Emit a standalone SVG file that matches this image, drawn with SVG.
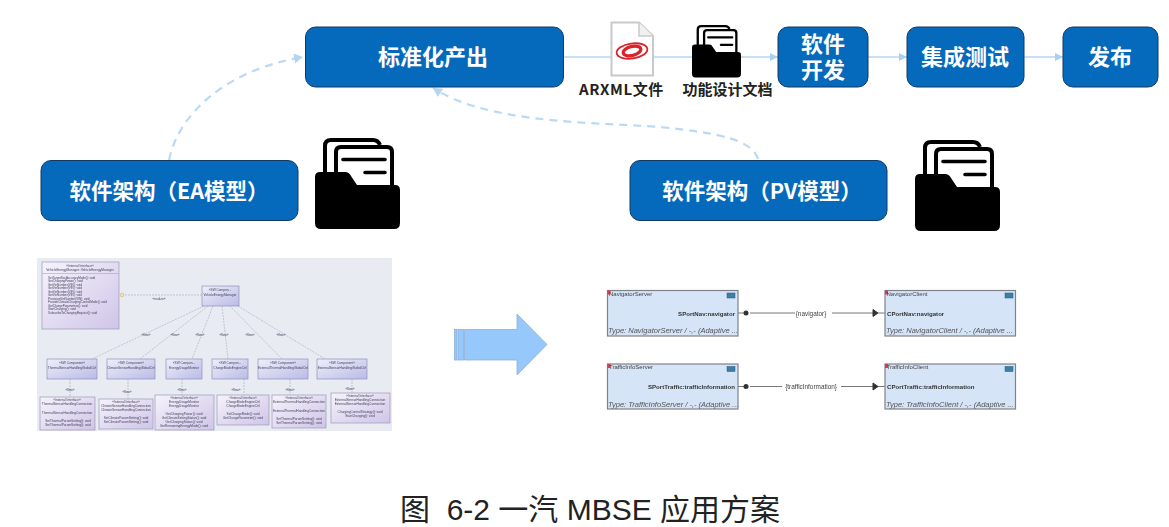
<svg xmlns="http://www.w3.org/2000/svg" xmlns:xlink="http://www.w3.org/1999/xlink" width="1169" height="527" viewBox="0 0 1169 527">
<style>
text{font-family:"Noto Sans CJK SC","Liberation Sans",sans-serif}
.n{fill:#0569bc;stroke:#123a63;stroke-width:1}
.t{fill:#fff;font-weight:700;text-anchor:middle}
.flow{fill:none;stroke:#b4d6f3;stroke-width:1.500}
.dash{fill:none;stroke:#bbd9f4;stroke-width:2.200;stroke-dasharray:8 6}
.cap{font-family:"Liberation Sans","Noto Sans CJK SC",sans-serif;font-size:30px;fill:#222;text-anchor:middle}
.lab{font-weight:700;fill:#222;text-anchor:middle}
.cls{fill:url(#pu);stroke:#9d97b8;stroke-width:.7}
.cmp{fill:url(#bl);stroke:#8f92b8;stroke-width:.7}
.ea{font-family:"Liberation Sans",sans-serif;font-size:3.2px;fill:#45435e;text-anchor:middle}
.eal{font-family:"Liberation Sans",sans-serif;font-size:3px;fill:#45435e}
.el{fill:none;stroke:#b0b3c0;stroke-width:.7;stroke-dasharray:2 1}
.pv{fill:#d6e4f7;stroke:#7f8387;stroke-width:1.200}
.pn{font-family:"Liberation Sans",sans-serif;font-size:6px;fill:#444}
.pp{font-family:"Liberation Sans",sans-serif;font-size:6.100px;font-weight:700;fill:#333}
.pt{font-family:"Liberation Sans",sans-serif;font-size:7.500px;font-style:italic;fill:#555}
.pl{font-family:"Liberation Sans",sans-serif;font-size:6.400px;fill:#444;text-anchor:middle}
.pc{stroke:#777;stroke-width:1;fill:none}
</style>
<defs>
<marker id="ah" markerWidth="9" markerHeight="9" refX="8" refY="4" orient="auto" markerUnits="userSpaceOnUse"><path d="M0,0L8,4L0,8Z" fill="#a9d0f0"/></marker>
<marker id="ad" markerWidth="11" markerHeight="11" refX="9" refY="5" orient="auto" markerUnits="userSpaceOnUse"><path d="M0,0L9,5L0,10Z" fill="#b4d5f2"/></marker>
<linearGradient id="pu" x1="0" y1="0" x2="1" y2="1"><stop offset="0" stop-color="#f6f3fb"/><stop offset="1" stop-color="#cfc5e8"/></linearGradient>
<linearGradient id="bl" x1="0" y1="0" x2="1" y2="1"><stop offset="0" stop-color="#eeeffa"/><stop offset="1" stop-color="#b9bbe6"/></linearGradient>
<filter id="soft" x="-2%" y="-2%" width="104%" height="104%"><feGaussianBlur stdDeviation=".35"/></filter>
<g id="folder">
<path d="M10,36V8Q10,2 16,2H58Q63,2 65,7" fill="#fff" stroke="#000" stroke-width="4"/>
<path d="M21,50V14Q21,9 26,9H72Q77,9 77,14V50Z" fill="#fff" stroke="#000" stroke-width="4"/>
<path d="M28,21.500H70M50,34.500H70" stroke="#000" stroke-width="3.600" stroke-linecap="round" fill="none"/>
<path d="M0,39Q0,34 5,34H30Q34,34 36,38L42,47H80Q85,47 85,52V85Q85,91 79,91H6Q0,91 0,85Z" fill="#000"/>
</g>
</defs>
<rect width="1169" height="527" fill="#fff"/>

<g id="connectors">
<path class="flow" d="M563,57H611"/>
<path class="flow" d="M654,57H692"/>
<path class="flow" d="M741,57H778" marker-end="url(#ah)"/>
<path class="flow" d="M868,57H907" marker-end="url(#ah)"/>
<path class="flow" d="M1024,57H1063" marker-end="url(#ah)"/>
<path class="dash" d="M169,160C178,115 225,70 303,57" marker-end="url(#ad)"/>
<path class="dash" d="M758,159C752,140 720,133 660,127C600,122 490,125 433,88" marker-end="url(#ad)"/>
</g>

<g id="n-output"><rect class="n" x="305.500" y="27" width="258" height="60" rx="10"/><text class="t" x="433" y="65" font-size="22">标准化产出</text></g>
<g id="n-dev"><rect class="n" x="778" y="27" width="90" height="60" rx="10"/><text class="t" font-size="22"><tspan x="823" y="52">软件</tspan><tspan x="823" y="78">开发</tspan></text></g>
<g id="n-test"><rect class="n" x="907" y="27" width="117" height="60" rx="10"/><text class="t" x="965" y="65" font-size="22">集成测试</text></g>
<g id="n-release"><rect class="n" x="1063" y="27" width="95" height="60" rx="10"/><text class="t" x="1110" y="65" font-size="22">发布</text></g>
<g id="n-ea"><rect class="n" x="41" y="160.500" width="257" height="60" rx="10"/><text class="t" x="169" y="199" font-size="21.500">软件架构（EA模型）</text></g>
<g id="n-pv"><rect class="n" x="630" y="160.500" width="257" height="60" rx="10"/><text class="t" x="762" y="199" font-size="21.500">软件架构（PV模型）</text></g>

<g id="doc-arxml">
<path d="M611.500,22.500H639L653,36V75.500H611.500Z" fill="#fff" stroke="#c9c9c9" stroke-width="2"/>
<path d="M639,22.500V36H653" fill="#f0f0f0" stroke="#c9c9c9" stroke-width="1.500"/>
<ellipse cx="632" cy="51" rx="15.500" ry="7.500" fill="none" stroke="#d8232a" stroke-width="1.800" transform="rotate(-8 632 51)"/>
<ellipse cx="632" cy="51" rx="9" ry="4.500" fill="none" stroke="#d8232a" stroke-width="3.200" transform="rotate(-14 632 51)"/>
<text class="lab" x="621.500" y="95" font-size="15" letter-spacing=".6">ARXML文件</text>
</g>
<g id="doc-design">
<use xlink:href="#folder" transform="translate(692,25) scale(.576)"/>
<text class="lab" x="727.500" y="95" font-size="15">功能设计文档</text>
</g>
<g id="folder-ea"><use xlink:href="#folder" transform="translate(315,138)"/></g>
<g id="folder-pv"><use xlink:href="#folder" transform="translate(915,140)"/></g>

<g id="ea-model" filter="url(#soft)">
<rect x="37" y="258" width="355" height="173" fill="#e9ebf3"/>
<path class="el" d="M122,295H202M204,306L92,359M208,306L140,359M213,306L192,359M222,306L228,359M230,306L282,359M238,306L325,359M70,379V397M128,379V399M182,379V395M244,379V395M290,379V395M352,379V393"/>
<circle cx="122" cy="295" r="1.800" fill="#f1e6b8" stroke="#c9a84f" stroke-width=".5"/>
<rect class="cls" x="42" y="262" width="77" height="67"/>
<path d="M42,273.500H119" stroke="#9d97b8" stroke-width=".5"/>
<text class="ea" x="80" y="266.500">«Internal Interface»</text>
<text class="ea" x="80" y="270.500">VehicleEnergyManager::VehicleEnergyManager</text>
<text class="eal" x="48" y="278.500">SetTargetSocAccuracyMode(): void</text>
<text class="eal" x="48" y="282">GetChargingPower(): void</text>
<text class="eal" x="48" y="285.500">GetVinNumber(VIN): void</text>
<text class="eal" x="48" y="289">GetVinNumber(VIN): void</text>
<text class="eal" x="48" y="292.500">GetVinNumber(VIN): void</text>
<text class="eal" x="48" y="296">GetVinNumber(VIN): void</text>
<text class="eal" x="48" y="299.500">ProvisionVinNumber(VIN): void</text>
<text class="eal" x="48" y="303">ProvideClimateChargingControlMode(): void</text>
<text class="eal" x="48" y="306.500">GetChargeParameters(): void</text>
<text class="eal" x="48" y="310">StartCharging(): void</text>
<text class="eal" x="48" y="313.500">SubscribeToChargingRequest(): void</text>
<rect class="cmp" x="202" y="286" width="37" height="20"/>
<text class="ea" x="220" y="291">«SW Compon...</text><text class="ea" x="220" y="295.500">VehicleEnergyManager</text>
<text class="ea" x="159" y="300">«realize»</text>
<text class="ea" x="146" y="336">«flow»</text><text class="ea" x="175" y="336">«flow»</text><text class="ea" x="200" y="336">«flow»</text><text class="ea" x="224" y="336">«flow»</text><text class="ea" x="250" y="336">«flow»</text><text class="ea" x="281" y="336">«flow»</text>
<text class="ea" x="70" y="391">«flow»</text><text class="ea" x="127" y="393">«flow»</text><text class="ea" x="182" y="391">«flow»</text><text class="ea" x="236" y="391">«flow»</text><text class="ea" x="290" y="391">«flow»</text><text class="ea" x="350" y="390">«flow»</text>

<rect class="cmp" x="47" y="359" width="50" height="20"/><text class="ea" x="72" y="364">«SW Component»</text><text class="ea" x="72" y="369">ThermalSensorHandlingGlobalCtrl</text>
<rect class="cmp" x="107" y="359" width="48" height="20"/><text class="ea" x="131" y="364">«SW Component»</text><text class="ea" x="131" y="369">ClimateSensorHandlingGlobalCtrl</text>
<rect class="cmp" x="166" y="359" width="36" height="20"/><text class="ea" x="184" y="364">«SW Compon...</text><text class="ea" x="184" y="369">EnergyUsageMonitor</text>
<rect class="cmp" x="212" y="359" width="36" height="20"/><text class="ea" x="230" y="364">«SW Compon...</text><text class="ea" x="230" y="369">ChargeModeEngineCtrl</text>
<rect class="cmp" x="258" y="359" width="50" height="20"/><text class="ea" x="283" y="364">«SW Component»</text><text class="ea" x="283" y="369">ExternalThermalHandlingGlobalCtrl</text>
<rect class="cmp" x="317" y="359" width="50" height="20"/><text class="ea" x="342" y="364">«SW Component»</text><text class="ea" x="342" y="369">ExternalSensorHandlingGlobalCtrl</text>

<rect class="cls" x="40" y="397" width="55" height="33"/><text class="ea" x="67" y="401">«Internal Interface»</text><text class="ea" x="67" y="405">ThermalSensorHandlingConnection</text><text class="ea" x="67" y="414">ThermalSensorHandlingConnection</text><text class="ea" x="68" y="422">SetThermalParamSetting(): void</text><text class="ea" x="68" y="426">SetThermalParamSetting(): void</text>
<rect class="cls" x="99" y="399" width="54" height="30"/><text class="ea" x="126" y="403">«Internal Interface»</text><text class="ea" x="126" y="407">ClimateSensorHandlingConnection</text><text class="ea" x="126" y="411">ClimateSensorHandlingConnection</text><text class="ea" x="126" y="419">SetClimateParamSetting(): void</text><text class="ea" x="126" y="423">SetClimateParamSetting(): void</text>
<rect class="cls" x="155" y="395" width="59" height="35"/><text class="ea" x="184" y="399">«Internal Interface»</text><text class="ea" x="184" y="403">EnergyUsageMonitor</text><text class="ea" x="184" y="407">EnergyUsageMonitor</text><text class="ea" x="184" y="415">GetChargingPower(): void</text><text class="ea" x="184" y="419">GetClimateSettingStatus(): void</text><text class="ea" x="184" y="423">GetChargingStatus(): void</text><text class="ea" x="184" y="427">GetRemainingEnergyMode(): void</text>
<rect class="cls" x="217" y="395" width="52" height="30"/><text class="ea" x="243" y="399">«Internal Interface»</text><text class="ea" x="243" y="403">ChargeModeEngineCtrl</text><text class="ea" x="243" y="407">ChargeModeEngineCtrl</text><text class="ea" x="243" y="415">SetChargeMode(): void</text><text class="ea" x="243" y="419">GetChargeParameter(): void</text>
<rect class="cls" x="272" y="395" width="54" height="33"/><text class="ea" x="299" y="399">«Internal Interface»</text><text class="ea" x="299" y="403">ExternalThermalHandlingConnection</text><text class="ea" x="299" y="412">ExternalThermalHandlingConnection</text><text class="ea" x="299" y="420">SetThermalParamSetting(): void</text><text class="ea" x="299" y="424">SetThermalParamSetting(): void</text>
<rect class="cls" x="331" y="393" width="59" height="30"/><text class="ea" x="360" y="397">«Internal Interface»</text><text class="ea" x="360" y="401">ExternalSensorHandlingConnection</text><text class="ea" x="360" y="405">ExternalSensorHandlingConnection</text><text class="ea" x="360" y="413">ChargingControlStrategy(): void</text><text class="ea" x="360" y="417">StartCharging(): void</text>
</g>

<g id="big-arrow" fill="#96c8fb" stroke="#8ab0d6" stroke-width=".8">
<rect x="454.500" y="329.500" width="2.500" height="30.500"/>
<rect x="458" y="329.500" width="5.500" height="30.500"/>
<path d="M464.500,329.500H517V314L547,344.500L517,375V360H464.500Z"/>
</g>

<g id="pv-model" filter="url(#soft)">
<path class="pc" d="M738,313H745M885,313H878M750,313H795M832,313H873"/>
<path class="pc" d="M738,386.500H745M885,386.500H878M750,386.500H782M841,386.500H873"/>
<circle cx="746" cy="313" r="2.500" fill="#333"/><circle cx="746" cy="386.500" r="2.500" fill="#333"/>
<path d="M873,309.500L878,313L873,316.500Z M873,383L878,386.500L873,390Z" fill="#333" stroke="#333"/>
<text class="pl" x="811" y="315.500">{navigator}</text>
<text class="pl" x="811" y="389">{trafficInformation}</text>

<g id="pv-server-nav"><rect class="pv" x="607.500" y="290.500" width="130.500" height="45.500"/><rect x="607.500" y="290.500" width="3" height="4" fill="#d83a52"/><rect x="727" y="293" width="8" height="5" fill="#3d7fa6" stroke="#1e5b80" stroke-width=".5"/><text class="pn" x="609" y="295.500">NavigatorServer</text><text class="pp" x="735" y="315.500" text-anchor="end">SPortNav:navigator</text><text class="pt" x="608" y="333">Type: NavigatorServer / -,- (Adaptive ...</text></g>
<g id="pv-client-nav"><rect class="pv" x="885" y="290.500" width="130.500" height="45.500"/><rect x="885" y="290.500" width="3" height="4" fill="#d83a52"/><rect x="1005" y="293" width="8" height="5" fill="#3d7fa6" stroke="#1e5b80" stroke-width=".5"/><text class="pn" x="886.500" y="295.500">NavigatorClient</text><text class="pp" x="887" y="315.500">CPortNav:navigator</text><text class="pt" x="886" y="333">Type: NavigatorClient / -,- (Adaptive ...</text></g>
<g id="pv-server-traffic"><rect class="pv" x="607.500" y="364" width="130.500" height="45"/><rect x="607.500" y="364" width="3" height="4" fill="#d83a52"/><rect x="727" y="366.500" width="8" height="5" fill="#3d7fa6" stroke="#1e5b80" stroke-width=".5"/><text class="pn" x="609" y="369">TrafficInfoServer</text><text class="pp" x="735" y="389" text-anchor="end">SPortTraffic:trafficInformation</text><text class="pt" x="608" y="406.500">Type: TrafficInfoServer / -,- (Adaptive ...</text></g>
<g id="pv-client-traffic"><rect class="pv" x="885" y="364" width="130.500" height="45"/><rect x="885" y="364" width="3" height="4" fill="#d83a52"/><rect x="1005" y="366.500" width="8" height="5" fill="#3d7fa6" stroke="#1e5b80" stroke-width=".5"/><text class="pn" x="886.500" y="369">TrafficInfoClient</text><text class="pp" x="887" y="389">CPortTraffic:trafficInformation</text><text class="pt" x="886" y="406.500">Type: TrafficInfoClient / -,- (Adaptive ...</text></g>
</g>

<text id="caption" class="cap" x="590" y="520" xml:space="preserve">图  6-2 一汽 MBSE 应用方案</text>
</svg>
